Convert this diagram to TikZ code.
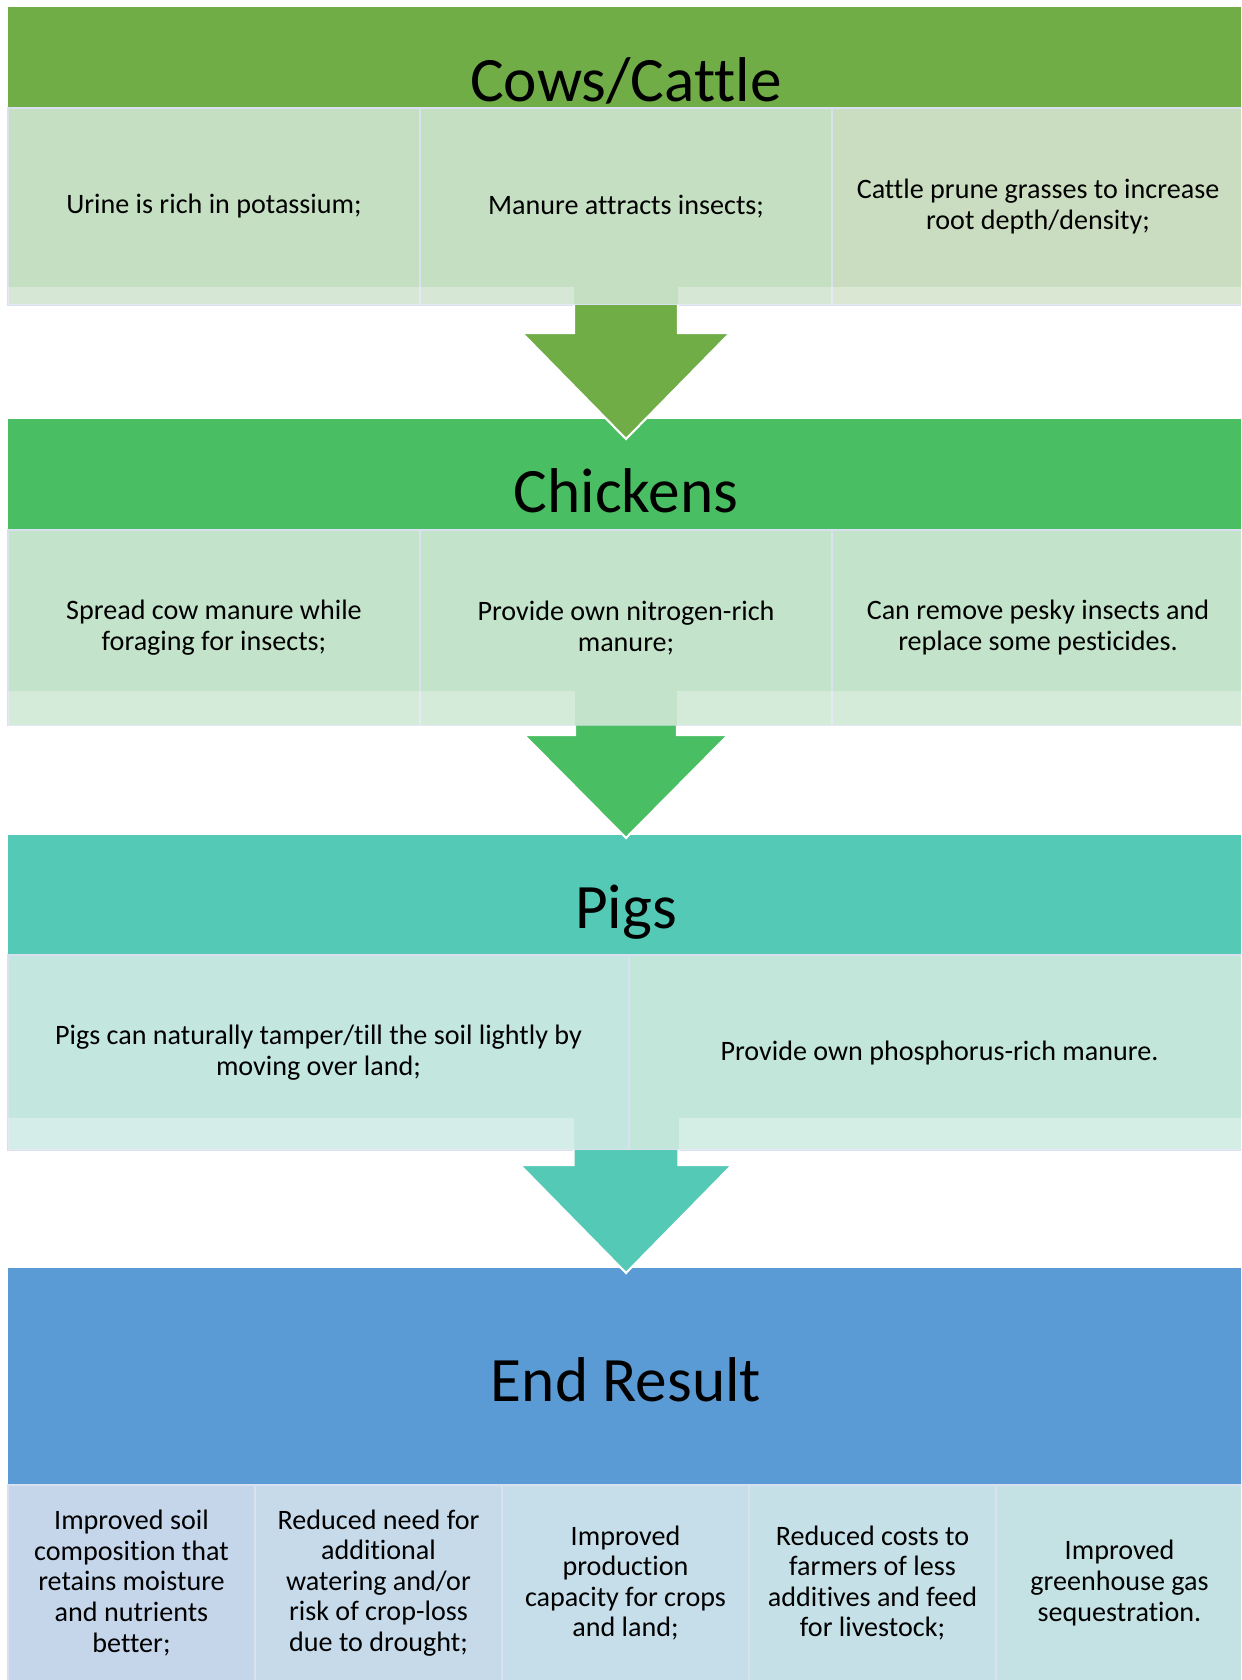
\documentclass[tikz,border=0pt]{standalone}
\usepackage{fontspec}
\setmainfont{Carlito}[Ligatures=NoCommon]
\usepackage{xcolor}
\usepackage{tikz}
\usetikzlibrary{positioning}

\definecolor{cowgreen}{HTML}{70AD47}
\definecolor{cowcell}{HTML}{C5DFC3}
\definecolor{cowcellr}{HTML}{CBDDC1}
\definecolor{hengreen}{HTML}{49BE62}
\definecolor{hencell}{HTML}{C3E3CB}
\definecolor{pigteal}{HTML}{54C9B5}
\definecolor{pigcell}{HTML}{C3E6DF}
\definecolor{pigcellr}{HTML}{C2E6DA}
\definecolor{endblue}{HTML}{5B9BD5}
\definecolor{endcella}{HTML}{C5D6EB}
\definecolor{endcellb}{HTML}{C6DAEA}
\definecolor{endcellc}{HTML}{C6DEE9}
\definecolor{endcelld}{HTML}{C5E0E6}
\definecolor{endcelle}{HTML}{C4E2E3}
\definecolor{cellline}{HTML}{D9E0F0}

\begin{document}
\begin{tikzpicture}[
        head/.style={rectangle, anchor=north west, inner sep=0pt, outer sep=0pt,
                     minimum width=24.72cm},
        headtext/.style={anchor=base, inner sep=0pt, font=\fontsize{36}{43}\selectfont},
        cell/.style={rectangle, draw=cellline, line width=0.8pt, anchor=north west,
                     align=center, inner sep=0pt, outer sep=0pt,
                     font=\fontsize{16}{17.4}\selectfont},
        strip/.style={fill=white, fill opacity=0.3},
        downarrow/.style={draw=white, line width=1.2pt, line join=miter}
      ]
        \useasboundingbox (0,0) rectangle (24.82,-33.6);
        \clip (0,0) rectangle (24.82,-33.6);

        % Cows/Cattle
        \node [head, fill=cowgreen, minimum height=2.01cm] (cowhead) at (0.16,-0.15) {};
        \node [headtext] (cowtitle) at ([yshift=0.12cm]cowhead.south) {Cows/Cattle};
        \node [cell, fill=cowcell, minimum width=8.24cm, minimum height=3.94cm] (cow1)
              at (cowhead.south west) {Urine is rich in potassium;};
        \node [cell, fill=cowcell, minimum width=8.24cm, minimum height=3.94cm,
               right=0cm of cow1] (cow2) {Manure attracts insects;};
        \node [cell, fill=cowcellr, minimum width=8.24cm, minimum height=3.94cm,
               right=0cm of cow2] (cow3) {Cattle prune grasses to increase\\root depth/density;};
        \fill [strip] (0.16,-5.74) rectangle (11.48,-6.10);
        \fill [strip] (13.56,-5.74) rectangle (24.88,-6.10);

        % Chickens
        \node [head, fill=hengreen, minimum height=2.22cm] (henhead) at (0.16,-8.38) {};
        \node [headtext] (hentitle) at ([yshift=0.36cm]henhead.south) {Chickens};
        \node [cell, fill=hencell, minimum width=8.24cm, minimum height=3.91cm] (hen1)
              at (henhead.south west) {Spread cow manure while\\foraging for insects;};
        \node [cell, fill=hencell, minimum width=8.24cm, minimum height=3.91cm,
               right=0cm of hen1] (hen2) {Provide own nitrogen-rich\\manure;};
        \node [cell, fill=hencell, minimum width=8.24cm, minimum height=3.91cm,
               right=0cm of hen2] (hen3) {Can remove pesky insects and\\replace some pesticides.};
        \fill [strip] (0.16,-13.82) rectangle (11.50,-14.51);
        \fill [strip] (13.54,-13.82) rectangle (24.88,-14.51);

        % Pigs
        \node [head, fill=pigteal, minimum height=2.40cm] (pighead) at (0.16,-16.70) {};
        \node [headtext] (pigtitle) at ([yshift=0.54cm]pighead.south) {Pigs};
        \node [cell, fill=pigcell, minimum width=12.42cm, minimum height=3.90cm] (pig1)
              at (pighead.south west) {Pigs can naturally tamper/till the soil lightly by\\moving over land;};
        \node [cell, fill=pigcellr, minimum width=12.42cm, minimum height=3.90cm,
               right=0cm of pig1] (pig2) {Provide own phosphorus-rich manure.};
        \fill [strip] (0.16,-22.36) rectangle (11.48,-23.00);
        \fill [strip] (13.58,-22.36) rectangle (24.88,-23.00);

        % End Result
        \node [head, fill=endblue, minimum height=4.34cm] (endhead) at (0.16,-25.36) {};
        \node [headtext] (endtitle) at ([yshift=1.68cm]endhead.south) {End Result};
        \node [cell, fill=endcella, minimum width=4.94cm, minimum height=3.92cm] (end1)
              at (endhead.south west) {Improved soil\\composition that\\retains moisture\\and nutrients\\better;};
        \node [cell, fill=endcellb, minimum width=4.94cm, minimum height=3.92cm,
               right=0cm of end1] (end2) {Reduced need for\\additional\\watering and/or\\risk of crop-loss\\due to drought;};
        \node [cell, fill=endcellc, minimum width=4.94cm, minimum height=3.92cm,
               right=0cm of end2] (end3) {Improved\\production\\capacity for crops\\and land;};
        \node [cell, fill=endcelld, minimum width=4.94cm, minimum height=3.92cm,
               right=0cm of end3] (end4) {Reduced costs to\\farmers of less\\additives and feed\\for livestock;};
        \node [cell, fill=endcelle, minimum width=4.94cm, minimum height=3.92cm,
               right=0cm of end4] (end5) {Improved\\greenhouse gas\\sequestration.};

        % Arrows
        \path [downarrow, fill=cowgreen]
              ([xshift=-1.04cm]cow2.south) -- ++(0,-0.56) -- ++(-1.04,0)
              -- ([yshift=-0.40cm]henhead.north) -- ++(2.08,2.12) -- ++(-1.04,0)
              -- ([xshift=1.04cm]cow2.south);
        \path [downarrow, fill=hengreen]
              ([xshift=-1.02cm]hen2.south) -- ++(0,-0.19) -- ++(-1.02,0)
              -- ([yshift=-0.06cm]pighead.north) -- ++(2.04,2.06) -- ++(-1.02,0)
              -- ([xshift=1.02cm]hen2.south);
        \coordinate (pigbot) at (pighead.south |- pig1.south);
        \path [downarrow, fill=pigteal]
              ([xshift=-1.05cm]pigbot) -- ++(0,-0.30) -- ++(-1.07,0)
              -- ([yshift=-0.10cm]endhead.north) -- ++(2.12,2.16) -- ++(-1.07,0)
              -- ([xshift=1.05cm]pigbot);
      \end{tikzpicture}
\end{document}
